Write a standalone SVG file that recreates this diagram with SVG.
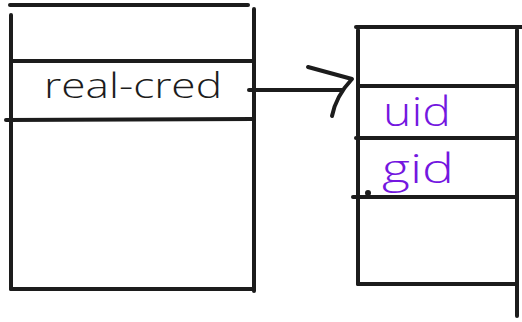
<svg xmlns="http://www.w3.org/2000/svg" width="522" height="322" viewBox="0 0 522 322">
  <style>
    .ink { fill: none; stroke: #1c1c1c; stroke-width: 4; stroke-linecap: round; stroke-linejoin: round; }
    .label { font-family: "Open Sans", "DejaVu Sans", sans-serif; font-weight: 300; }
    .dark { fill: #1c1c1c; }
    .violet { fill: #7417e0; }
  </style>
  <rect width="522" height="322" fill="#ffffff"/>

  <!-- left structure with the real-cred slot -->
  <g id="cred-struct">
    <path class="ink" d="M10 5 L248 5"/>
    <path class="ink" d="M11 15 L11 289"/>
    <path class="ink" d="M254 9 L254 291"/>
    <path class="ink" d="M11 61 L254 61"/>
    <path class="ink" d="M6 120 L254 119"/>
    <path class="ink" d="M11 289 L254 289"/>
    <text class="label dark" x="44" y="98" font-size="34" textLength="178" lengthAdjust="spacingAndGlyphs">real-cred</text>
  </g>

  <!-- right structure with uid / gid fields -->
  <g id="cred-fields">
    <path class="ink" d="M356 27 L522 27"/>
    <path class="ink" d="M358 30 L358 284"/>
    <path class="ink" d="M517 30 L517 316"/>
    <path class="ink" d="M358 86 L517 86"/>
    <path class="ink" d="M356 138 L517 138"/>
    <path class="ink" d="M353 197 L517 197"/>
    <path class="ink" d="M358 284 L517 284"/>
    <circle cx="368" cy="193" r="3" class="dark"/>
    <text class="label violet" x="383" y="126" font-size="40" textLength="68" lengthAdjust="spacingAndGlyphs">uid</text>
    <text class="label violet" x="382" y="183" font-size="40" textLength="72" lengthAdjust="spacingAndGlyphs">gid</text>
  </g>

  <!-- pointer from real-cred to the fields -->
  <g id="connectors">
    <path class="ink" d="M249 90 L342 90"/>
    <path class="ink" d="M308 67 L352 79 Q336 96 332 116"/>
  </g>
</svg>
